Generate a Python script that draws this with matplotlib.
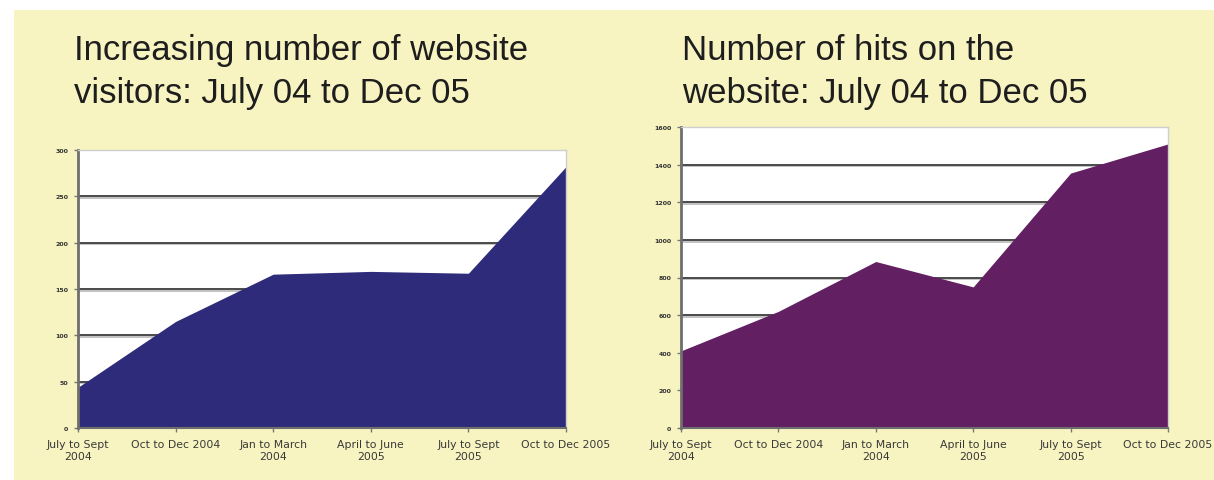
import matplotlib.pyplot as plt
import matplotlib.patheffects as pe
from matplotlib.patches import Rectangle
import numpy as np

# data
periods = ['July to Sept\n2004', 'Oct to Dec 2004', 'Jan to March\n2004',
           'April to June\n2005', 'July to Sept\n2005', 'Oct to Dec 2005']
visitors = [44, 115, 166, 169, 167, 282]
hits = [410, 620, 885, 750, 1355, 1510]

visitor_ticks = [0, 50, 100, 150, 200, 250, 300]
hit_ticks = [0, 200, 400, 600, 800, 1000, 1200, 1400, 1600]

title_left = ['Increasing number of website', 'visitors: July 04 to Dec 05']
title_right = ['Number of hits on the', 'website: July 04 to Dec 05']

BG = '#f7f4c1'
NAVY = '#2e2b7a'
PURPLE = '#621f62'

W, H = 1214, 481
fig = plt.figure(figsize=(W / 100, H / 100), dpi=100)
fig.patch.set_facecolor('white')
fig.patches.append(Rectangle((14 / W, 0), 1, (H - 11) / H, transform=fig.transFigure,
                             facecolor=BG, edgecolor='none', zorder=-10))


def px_axes(x0, x1, ytop, ybot):
    return fig.add_axes([x0 / W, (H - ybot) / H, (x1 - x0) / W, (ybot - ytop) / H])


def area_chart(ax, values, ticks, color):
    x = np.arange(len(values))
    ax.set_facecolor('white')
    ax.fill_between(x, values, 0, color=color, zorder=3, lw=0)
    ax.set_xlim(0, len(values) - 1)
    ax.set_ylim(0, ticks[-1])
    ax.set_yticks(ticks)
    ax.set_yticklabels([str(t) for t in ticks], fontsize=4.5, fontweight='bold', color='#333333')
    # grid lines with a soft grey shadow underneath
    shadow = [pe.SimpleLineShadow(offset=(0, -1.2), shadow_color='#999999', alpha=0.6), pe.Normal()]
    for t in ticks[1:-1]:
        ax.axhline(t, color='#4a4a4a', lw=1.4, zorder=2, path_effects=shadow)
    ax.set_xticks(x)
    ax.set_xticklabels(periods, fontsize=7.8, color='#383838', linespacing=1.25)
    ax.tick_params(axis='x', length=3, width=1, color='#777777', pad=5)
    ax.tick_params(axis='y', length=3, width=1, color='#777777', pad=4)
    for side in ['top', 'right']:
        ax.spines[side].set_color('#cfcfcf')
        ax.spines[side].set_linewidth(1)
    ax.spines['left'].set_color('#6e6e6e')
    ax.spines['left'].set_linewidth(2)
    ax.spines['bottom'].set_color('#6e6e6e')
    ax.spines['bottom'].set_linewidth(1.5)
    for s in ax.spines.values():
        s.set_zorder(4)


ax1 = px_axes(78, 566, 151, 429)
area_chart(ax1, visitors, visitor_ticks, NAVY)

ax2 = px_axes(681, 1168, 128, 429)
area_chart(ax2, hits, hit_ticks, PURPLE)

for xs, lines in [(74, title_left), (682, title_right)]:
    for yb, line in zip([60, 103], lines):
        fig.text(xs / W, (H - yb) / H, line, fontsize=25, family='Liberation Sans',
                 color='#1e1e1e', va='baseline', ha='left')

fig.savefig('out.png', dpi=100, facecolor=fig.get_facecolor())
